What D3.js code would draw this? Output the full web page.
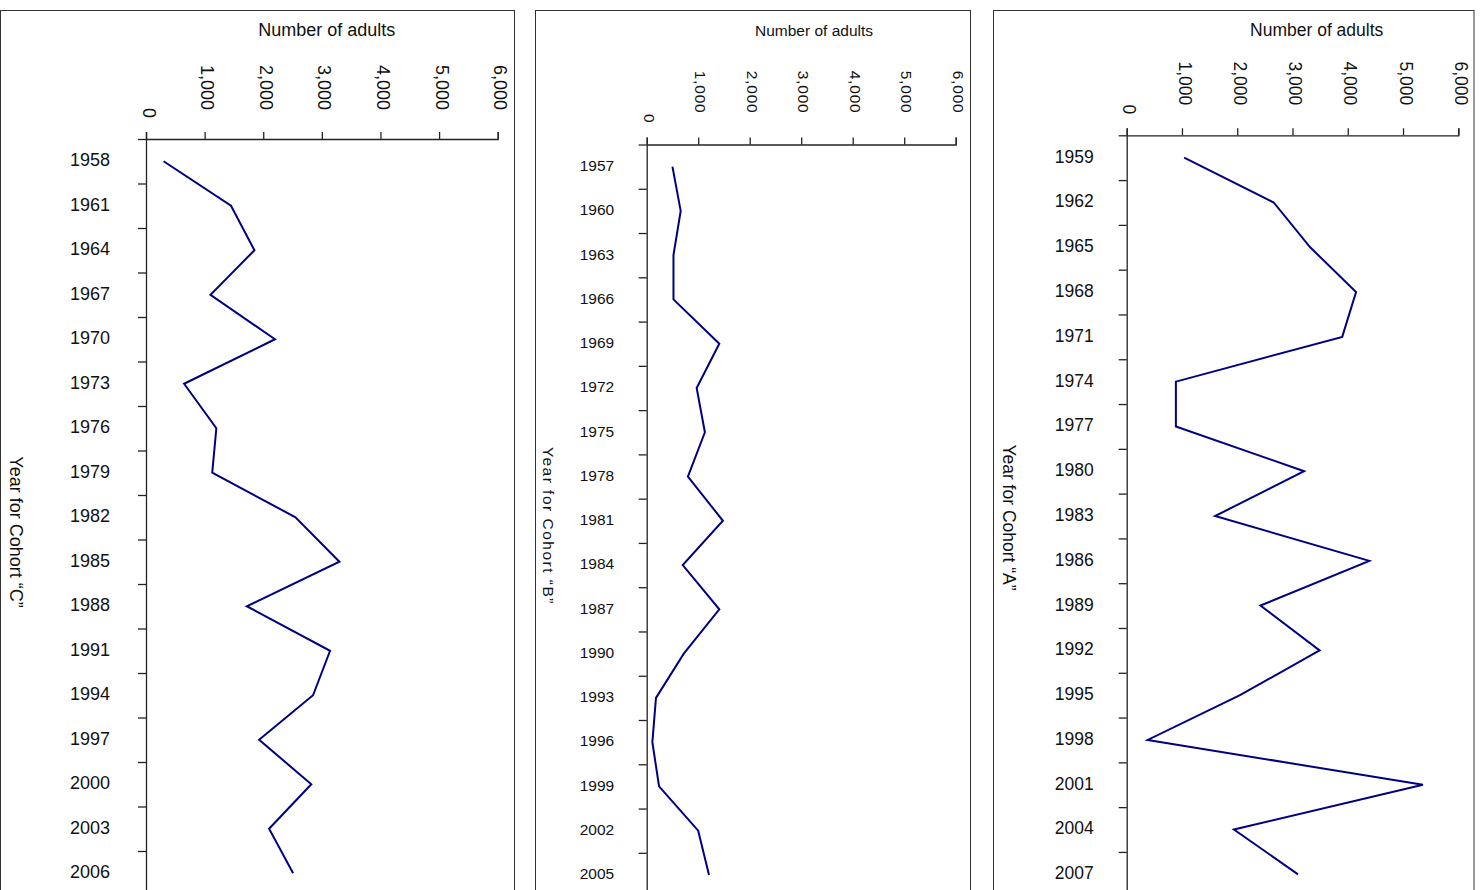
<!DOCTYPE html>
<html><head><meta charset="utf-8">
<script src="https://cdn.jsdelivr.net/npm/d3@7"></script>
<style>html,body{margin:0;padding:0;background:#fff;overflow:hidden}
text{font-family:"Liberation Sans",Arial,sans-serif;fill:#111}</style>
</head><body><svg id="chart" width="1482" height="890"></svg>
<script>
// ---- data ----
const valueTicks = [0, 1000, 2000, 3000, 4000, 5000, 6000];
const valueTitle = "Number of adults";

const yearsC = ["1958","1961","1964","1967","1970","1973","1976","1979","1982","1985","1988","1991","1994","1997","2000","2003","2006"];
const valuesC = [300,1450,1850,1100,2200,650,1200,1130,2550,3300,1720,3140,2850,1930,2820,2100,2510];
const cohortC = "Year for Cohort \u201CC\u201D";

const yearsB = ["1957","1960","1963","1966","1969","1972","1975","1978","1981","1984","1987","1990","1993","1996","1999","2002","2005"];
const valuesB = [500,660,520,520,1410,970,1130,800,1480,700,1410,720,180,110,240,1000,1210];
const cohortB = "Year for Cohort \u201CB\u201D";

const yearsA = ["1959","1962","1965","1968","1971","1974","1977","1980","1983","1986","1989","1992","1995","1998","2001","2004","2007"];
const valuesA = [1040,2660,3320,4150,3900,890,890,3210,1600,4390,2420,3490,2050,380,5360,1940,3100];
const cohortA = "Year for Cohort \u201CA\u201D";

// ---- layout ----
const panels = [
  {years: yearsC, values: valuesC, cohort: cohortC, fx0: 0.5, fx1: 514.5, x0: 146, x1: 497.7, top: 139, band: 44.5,
   fs: 18, tfs: 18, tls: 0, endOff: -29, titleX: 326.7, titleY: 36, yTitleX: 16.5, yTitleY: 532, gap: 36, yls: 0},
  {years: yearsB, values: valuesB, cohort: cohortB, fx0: 535.5, fx1: 970.5, x0: 646.7, x1: 955.7, top: 144.5, band: 44.27,
   fs: 15.5, tfs: 15.5, tls: 0.8, endOff: -31, titleX: 814, titleY: 35.5, yTitleX: 548.5, yTitleY: 526, gap: 32.5, yls: 1.5},
  {years: yearsA, values: valuesA, cohort: cohortA, fx0: 993.5, fx1: 1474, x0: 1126.7, x1: 1458.3, top: 135.3, band: 44.79,
   fs: 17.5, tfs: 17.5, tls: 0, endOff: -30, titleX: 1316.7, titleY: 35.5, yTitleX: 1009, yTitleY: 517.5, gap: 33, yls: 0}
];

const svg = d3.select("#chart");
const fmt = d3.format(",");

panels.forEach(p => {
  const g = svg.append("g");
  // frame
  g.append("rect").attr("x", p.fx0).attr("y", 10.5).attr("width", p.fx1 - p.fx0).attr("height", 1000)
    .attr("fill", "none").attr("stroke", "#333").attr("stroke-width", 1);

  const n = p.years.length;
  const bottom = p.top + n * p.band;
  const x = d3.scaleLinear().domain([0, 6000]).range([p.x0, p.x1]);
  const y = d3.scaleBand().domain(p.years).range([p.top, bottom]).padding(0);
  const idx = d3.scaleLinear().domain([0, n]).range([p.top, bottom]);

  // boundary ticks + vertical axis line
  const ba = g.append("g").attr("transform", `translate(${p.x0},0)`)
    .call(d3.axisLeft(idx).tickValues(d3.range(0, n + 1)).tickSize(8).tickSizeOuter(0).tickFormat(""));
  ba.selectAll("path,line").attr("stroke", "#222").attr("stroke-width", 1.3);

  // year labels
  const la = g.append("g").attr("transform", `translate(${p.x0},0)`)
    .call(d3.axisLeft(y).tickSize(0).tickPadding(p.gap));
  la.select(".domain").remove();
  la.selectAll("text").attr("font-size", p.fs).attr("font-family", "Liberation Sans, Arial").attr("fill", "#111")
    .attr("dy", "0.28em");

  // value axis (top)
  const xa = g.append("g").attr("transform", `translate(0,${p.top})`)
    .call(d3.axisTop(x).tickValues(valueTicks).tickSize(7).tickSizeOuter(7).tickFormat(fmt));
  xa.selectAll("path,line").attr("stroke", "#222").attr("stroke-width", 1.3);
  xa.selectAll("text")
    .attr("font-size", p.tfs).attr("font-family", "Liberation Sans, Arial").attr("fill", "#111")
    .attr("letter-spacing", p.tls)
    .attr("x", 0).attr("y", 0).attr("dy", "0.22em")
    .attr("text-anchor", "end")
    .attr("transform", d => `translate(0,${d === 0 ? -21 : p.endOff}) rotate(90)`);

  // line
  const line = d3.line()
    .x((d, i) => x(d))
    .y((d, i) => y(p.years[i]) + y.bandwidth() / 2);
  g.append("path").datum(p.values).attr("d", line)
    .attr("fill", "none").attr("stroke", "#000080").attr("stroke-width", 2).attr("stroke-linejoin", "miter");

  // titles
  g.append("text").attr("x", p.titleX).attr("y", p.titleY).attr("text-anchor", "middle")
    .attr("font-size", p.fs).text(valueTitle);
  g.append("text").attr("transform", `translate(${p.yTitleX},${p.yTitleY}) rotate(90)`)
    .attr("text-anchor", "middle").attr("dy", "0.35em").attr("letter-spacing", p.yls)
    .attr("font-size", p.fs).text(p.cohort);
});
</script></body></html>
